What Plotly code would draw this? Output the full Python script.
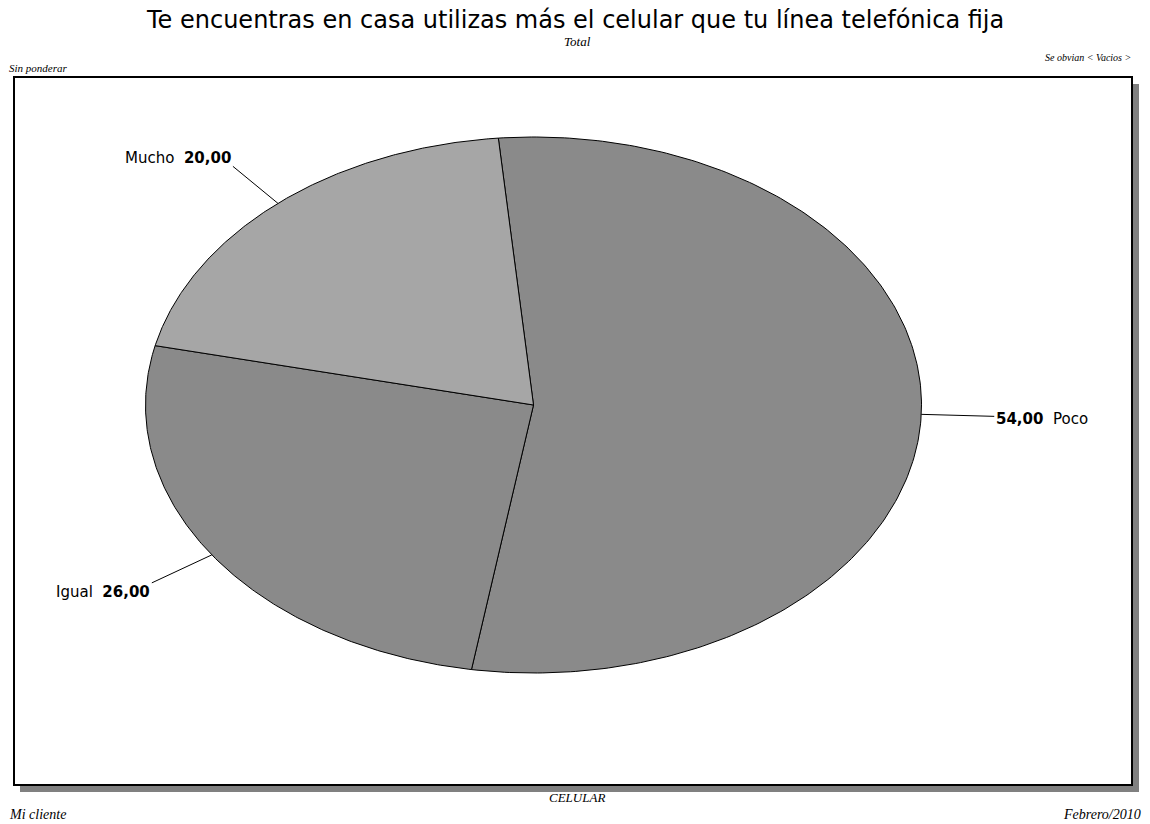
import numpy as np
import plotly.graph_objects as go

# ---- data ----
categories = ["Poco", "Igual", "Mucho"]
values = [54.0, 26.0, 20.0]
colors = ["#8a8a8a", "#8a8a8a", "#a6a6a6"]
start_deg = -5.2  # clockwise from 12 o'clock

title = "Te encuentras en casa utilizas más el celular que tu línea telefónica fija"

# ---- layout geometry (pixels) ----
W, H = 1150, 824
cx, cy = 533.5, 405.0
a, b = 388.0, 268.0
xr = [(0 - cx) / a, (W - cx) / a]
yr = [-(H - cy) / b, cy / b]

# label leader offsets in pixels (dx, dy screen) and anchors
leader = {
    "Mucho": dict(dx=-45, dy=-37, xanchor="right", xs=0, ys=8),
    "Igual": dict(dx=-60, dy=28, xanchor="right", xs=0, ys=-9),
    "Poco": dict(dx=73, dy=2, xanchor="left", xs=0, ys=-3),
}

sans = "DejaVu Sans, Verdana"
serif = "Liberation Serif, Times New Roman"

fig = go.Figure()
total = sum(values)
ang = start_deg
annotations = []
for cat, val, col in zip(categories, values, colors):
    sweep = val / total * 360.0
    t = np.radians(np.linspace(ang, ang + sweep, 240))
    xs = np.concatenate([[0], np.sin(t), [0]])
    ys = np.concatenate([[0], np.cos(t), [0]])
    fig.add_trace(go.Scatter(x=xs, y=ys, mode="lines", fill="toself",
                             fillcolor=col, line=dict(color="black", width=1),
                             hoverinfo="text", text=f"{cat}: {val:.2f}",
                             showlegend=False))
    mid = np.radians(ang + sweep / 2)
    ex, ey = np.sin(mid), np.cos(mid)
    L = leader[cat]
    lx, ly = ex + L["dx"] / a, ey - L["dy"] / b
    fig.add_trace(go.Scatter(x=[ex, lx], y=[ey, ly], mode="lines",
                             line=dict(color="black", width=1),
                             hoverinfo="skip", showlegend=False))
    num = f"{val:.2f}".replace(".", ",")
    if L["xanchor"] == "right":
        txt = f"{cat}  <b>{num}</b>"
    else:
        txt = f"<b>{num}</b>  {cat}"
    annotations.append(dict(x=lx, y=ly, xref="x", yref="y", text=txt,
                            showarrow=False, xanchor=L["xanchor"],
                            yanchor="middle", xshift=L["xs"], yshift=L["ys"],
                            font=dict(family=sans, size=15, color="black")))
    ang += sweep

def px(x):
    return x / W

def py(y):
    return 1 - y / H

shapes = [
    # shadow
    dict(type="rect", xref="paper", yref="paper", x0=px(20), x1=px(1139),
         y0=py(792), y1=py(84), fillcolor="#808080", line=dict(width=0),
         layer="below"),
    # frame
    dict(type="rect", xref="paper", yref="paper", x0=px(14), x1=px(1132),
         y0=py(785), y1=py(77), fillcolor="white",
         line=dict(color="black", width=2), layer="below"),
]

annotations += [
    dict(text=title, x=px(575), y=py(20), xref="paper", yref="paper",
         showarrow=False, xanchor="center", yanchor="middle",
         font=dict(family=sans, size=24, color="black")),
    dict(text="<i>Total</i>", x=px(577), y=py(41), xref="paper", yref="paper",
         showarrow=False, xanchor="center", yanchor="middle",
         font=dict(family=serif, size=13, color="black")),
    dict(text="<i>Sin ponderar</i>", x=px(7), y=py(68), xref="paper", yref="paper",
         showarrow=False, xanchor="left", yanchor="middle",
         font=dict(family=serif, size=11, color="black")),
    dict(text="<i>Se obvian &lt; Vacios &gt;</i>", x=px(1133), y=py(57),
         xref="paper", yref="paper", showarrow=False, xanchor="right",
         yanchor="middle", font=dict(family=serif, size=10, color="black")),
    dict(text="<i>CELULAR</i>", x=px(577), y=py(797), xref="paper", yref="paper",
         showarrow=False, xanchor="center", yanchor="middle",
         font=dict(family=serif, size=13, color="black")),
    dict(text="<i>Mi cliente</i>", x=px(7), y=py(814), xref="paper", yref="paper",
         showarrow=False, xanchor="left", yanchor="middle",
         font=dict(family=serif, size=14, color="black")),
    dict(text="<i>Febrero/2010</i>", x=px(1143), y=py(814), xref="paper",
         yref="paper", showarrow=False, xanchor="right", yanchor="middle",
         font=dict(family=serif, size=14, color="black")),
]

fig.update_layout(
    width=W, height=H, autosize=False,
    margin=dict(l=0, r=0, t=0, b=0),
    paper_bgcolor="white", plot_bgcolor="rgba(0,0,0,0)",
    xaxis=dict(range=xr, visible=False, fixedrange=True),
    yaxis=dict(range=yr, visible=False, fixedrange=True),
    shapes=shapes, annotations=annotations, showlegend=False,
)

fig.write_html("out.html", config={"displayModeBar": False})

# remove default page margin so the figure sits at the window's top-left
with open("out.html", encoding="utf-8") as f:
    html = f.read()
html = html.replace("<body>", '<body style="margin:0;padding:0;overflow:hidden">', 1)
with open("out.html", "w", encoding="utf-8") as f:
    f.write(html)
